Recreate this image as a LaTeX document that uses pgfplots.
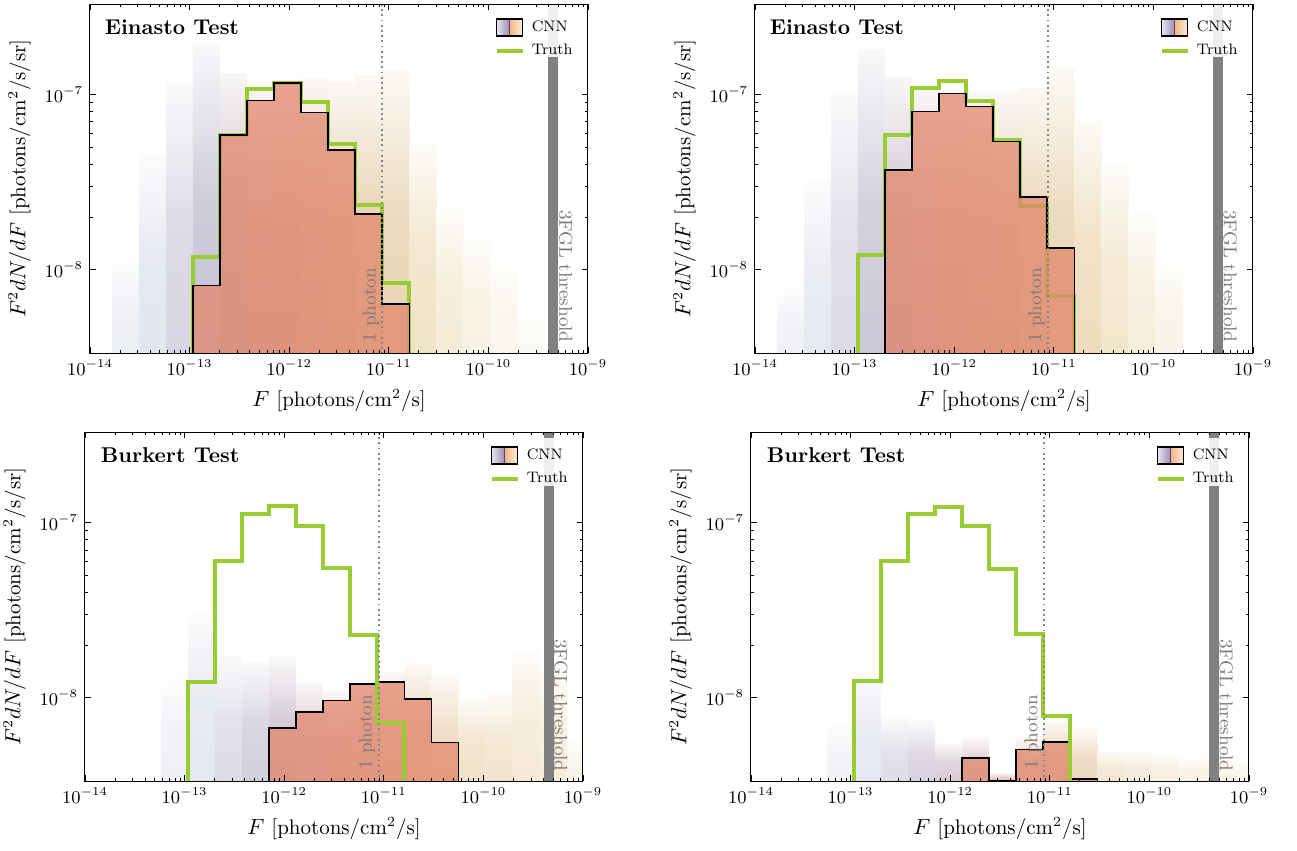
\documentclass[border=0pt]{standalone}
\usepackage{pgfplots}
\pgfplotsset{compat=1.18}

\definecolor{tgreen}{HTML}{99CC33}
\definecolor{salmon}{HTML}{E2876D}
\definecolor{bandgray}{HTML}{808080}
\definecolor{bandlight}{HTML}{EFEFEF}
\definecolor{dotcol}{HTML}{858585}
\definecolor{txtgray}{HTML}{7A7A7A}
\definecolor{cnnA}{HTML}{E4E4EE}
\definecolor{cnnB}{HTML}{9A8CAE}
\definecolor{cnnC}{HTML}{F0B882}
\definecolor{cnnD}{HTML}{FCEEDC}
\definecolor{cnnM}{HTML}{6A3A8A}
% panel 1 bins
\definecolor{a0}{HTML}{ECEEF5}\definecolor{a1}{HTML}{E3E5EF}\definecolor{a2}{HTML}{D6D6E4}
\definecolor{a3}{HTML}{C6C1D2}\definecolor{a4}{HTML}{C4B4BE}\definecolor{a5}{HTML}{D2B6B2}
\definecolor{a6}{HTML}{D8B6A8}\definecolor{a7}{HTML}{DCBCAA}\definecolor{a8}{HTML}{E0C4A6}
\definecolor{a9}{HTML}{E4CCA8}\definecolor{a10}{HTML}{E8D4B2}\definecolor{a11}{HTML}{F0E2C6}
\definecolor{a12}{HTML}{F5EBD6}\definecolor{a13}{HTML}{F8F2E3}\definecolor{a14}{HTML}{FAF6EC}
\definecolor{a15}{HTML}{FCFAF4}
% panel 2 bins
\definecolor{b0}{HTML}{EFF1F6}\definecolor{b1}{HTML}{E7E9F1}\definecolor{b2}{HTML}{DCDCE8}
\definecolor{b3}{HTML}{CCC8D7}\definecolor{b4}{HTML}{C6BAC6}\definecolor{b5}{HTML}{D4BAB8}
\definecolor{b6}{HTML}{DABAAE}\definecolor{b7}{HTML}{DCBEAC}\definecolor{b8}{HTML}{E0C4A8}
\definecolor{b9}{HTML}{E4CCA8}\definecolor{b10}{HTML}{E8D4B2}\definecolor{b11}{HTML}{EEDCBC}
\definecolor{b12}{HTML}{F2E6CC}\definecolor{b13}{HTML}{F6EEDC}\definecolor{b14}{HTML}{F9F4E8}
% panel 3 bins
\definecolor{c2}{HTML}{EEF0F5}\definecolor{c3}{HTML}{E5E7EF}\definecolor{c4}{HTML}{DCDCE8}
\definecolor{c5}{HTML}{D2CEDC}\definecolor{c6}{HTML}{CEC2CE}\definecolor{c7}{HTML}{D8C2C6}
\definecolor{c8}{HTML}{DCC0BE}\definecolor{c9}{HTML}{E0C4B8}\definecolor{c10}{HTML}{E4C8B4}
\definecolor{c11}{HTML}{E8D0B6}\definecolor{c12}{HTML}{ECD8BE}\definecolor{c13}{HTML}{F0E0C6}
\definecolor{c14}{HTML}{F2E4CC}\definecolor{c15}{HTML}{F5EAD6}\definecolor{c16}{HTML}{F6ECD8}
\definecolor{c17}{HTML}{F9F4E8}
% panel 4 bins
\definecolor{d2}{HTML}{F0F2F6}\definecolor{d3}{HTML}{E6E8F0}\definecolor{d4}{HTML}{DEDCE8}
\definecolor{d5}{HTML}{D8D2DE}\definecolor{d6}{HTML}{D8CCD4}\definecolor{d7}{HTML}{DCC8CC}
\definecolor{d8}{HTML}{E0C8C4}\definecolor{d9}{HTML}{E4CCC0}\definecolor{d10}{HTML}{E8D0BC}
\definecolor{d11}{HTML}{ECD8C0}\definecolor{d12}{HTML}{F2E6D0}\definecolor{d13}{HTML}{F4EADA}
\definecolor{d14}{HTML}{F6EEDF}\definecolor{d15}{HTML}{F8F2E4}\definecolor{d16}{HTML}{F8F2E4}
\definecolor{d17}{HTML}{FAF6EC}

% faint CNN bar: colour, left edge, right edge, top
\newcommand{\fb}[4]{\addplot[draw=none, forget plot, bottom color=#1, top color=#1!12!white, middle color=#1!82!white] coordinates {(#2,3.35e-9) (#2,#4) (#3,#4) (#3,3.35e-9)};}

\newcommand{\cnnlegend}{%
\addlegendimage{legend image code/.code={
  \shade[left color=cnnA, right color=cnnB] (0pt,-4.25pt) rectangle (6.5pt,4.25pt);
  \shade[left color=cnnC, right color=cnnD] (6.5pt,-4.25pt) rectangle (13pt,4.25pt);
  \draw[cnnM, line width=0.6pt] (6.5pt,-4.25pt) -- (6.5pt,4.25pt);
  \draw[black, line width=0.7pt] (0pt,-4.25pt) rectangle (13pt,4.25pt);
}}
\addlegendentry{CNN}
\addlegendimage{legend image code/.code={\draw[tgreen, line width=2pt] (0pt,0pt) -- (13pt,0pt);}}
\addlegendentry{Truth}
}

\pgfplotsset{
 every axis/.append style={
  scale only axis, width=249pt, height=174.5pt,
  xmin=1e-14, xmax=1e-9, ymin=3.35e-9, ymax=3.3e-7,
  xtick={1e-14,1e-13,1e-12,1e-11,1e-10,1e-9},
  ytick={1e-8,1e-7},
  tick align=inside, axis on top,
  major tick length=3pt, minor tick length=1.6pt,
  every tick/.append style={black, line width=0.4pt},
  axis line style={black, line width=0.5pt},
  tick label style={font=\fontsize{9}{10}\selectfont},
  label style={font=\fontsize{10.5}{12}\selectfont},
  xlabel={$F$ [photons/cm$^2$/s]},
  ylabel={$F^2dN/dF$ [photons/cm$^2$/s/sr]},
  legend cell align=left,
  legend style={draw=none, fill=none, at={(1,1)}, anchor=north east,
    xshift=-7.5pt, yshift=-7pt, font=\fontsize{7.6}{9}\selectfont,
    inner sep=0pt, row sep=3.5pt, column sep=3.5pt, nodes={inner sep=0pt}},
 },
}
\tikzset{
 ttl/.style={anchor=north west, inner sep=0pt, font=\bfseries\fontsize{10.7}{12}\selectfont},
 ann/.style={inner sep=0pt, text=txtgray, font=\fontsize{9.3}{11}\selectfont},
 phl/.style={dotcol, line width=0.9pt, dash pattern=on 0.9pt off 1.7pt},
}

\begin{document}
\begin{tikzpicture}
\path[use as bounding box] (0,0) rectangle (648.5pt,425.5pt);

% ---------------- Panel 1: Einasto (top left)
\begin{loglogaxis}[at={(45pt,249pt)}, anchor=south west]
\fb{a0}{1.656e-14}{3.094e-14}{1.09e-8}
\fb{a1}{3.094e-14}{5.782e-14}{4.54e-8}
\fb{a2}{5.782e-14}{1.080e-13}{1.17e-7}
\fb{a3}{1.080e-13}{2.019e-13}{1.95e-7}
\fb{a4}{2.019e-13}{3.773e-13}{1.32e-7}
\fb{a5}{3.773e-13}{7.050e-13}{1.10e-7}
\fb{a6}{7.050e-13}{1.317e-12}{1.20e-7}
\fb{a7}{1.317e-12}{2.461e-12}{1.23e-7}
\fb{a8}{2.461e-12}{4.600e-12}{1.17e-7}
\fb{a9}{4.600e-12}{8.595e-12}{1.30e-7}
\fb{a10}{8.595e-12}{1.606e-11}{1.38e-7}
\fb{a11}{1.606e-11}{3.001e-11}{5.25e-8}
\fb{a12}{3.001e-11}{5.608e-11}{2.22e-8}
\fb{a13}{5.608e-11}{1.048e-10}{1.55e-8}
\fb{a14}{1.048e-10}{1.958e-10}{1.14e-8}
\fb{a15}{1.958e-10}{3.659e-10}{6.0e-9}
\addplot[const plot, tgreen, line width=2pt, forget plot] coordinates {(1.080e-13,3e-9) (1.080e-13,1.19e-8) (2.019e-13,5.86e-8) (3.773e-13,1.076e-7) (7.050e-13,1.175e-7) (1.317e-12,9.04e-8) (2.461e-12,5.25e-8) (4.600e-12,2.35e-8) (8.595e-12,8.4e-9) (1.606e-11,3e-9)};
\addplot[const plot, draw=none, fill=salmon, fill opacity=0.75, forget plot] coordinates {(1.080e-13,3.35e-9) (1.080e-13,8.12e-9) (2.019e-13,5.9e-8) (3.773e-13,9.28e-8) (7.050e-13,1.166e-7) (1.317e-12,7.92e-8) (2.461e-12,4.85e-8) (4.600e-12,2.08e-8) (8.595e-12,6.37e-9) (1.606e-11,3.35e-9)};
\addplot[const plot, black, line width=0.75pt, forget plot] coordinates {(1.080e-13,3e-9) (1.080e-13,8.12e-9) (2.019e-13,5.9e-8) (3.773e-13,9.28e-8) (7.050e-13,1.166e-7) (1.317e-12,7.92e-8) (2.461e-12,4.85e-8) (4.600e-12,2.08e-8) (8.595e-12,6.37e-9) (1.606e-11,3e-9)};
\addplot[phl, forget plot] coordinates {(8.6e-12,3.3e-9) (8.6e-12,4e-7)};
\addplot[bandgray, line width=5pt, forget plot] coordinates {(4.5e-10,3e-9) (4.5e-10,4e-7)};
\addplot[bandlight, line width=5pt, forget plot] coordinates {(4.5e-10,1.64e-7) (4.5e-10,4e-7)};
\node[ttl] at ([xshift=7.3pt,yshift=-7.8pt]rel axis cs:0,1) {Einasto Test};
\node[ann, rotate=90, anchor=base west] at ([xshift=-3.3pt,yshift=5pt]axis cs:8.6e-12,3.35e-9) {1 photon};
\node[ann, rotate=-90, anchor=base east] at ([xshift=3pt,yshift=5pt]axis cs:4.5e-10,3.35e-9) {3FGL threshold};
\cnnlegend
\end{loglogaxis}

% ---------------- Panel 2: Einasto (top right)
\begin{loglogaxis}[at={(377.5pt,249pt)}, anchor=south west]
\fb{b0}{1.656e-14}{3.094e-14}{7.85e-9}
\fb{b1}{3.094e-14}{5.782e-14}{3.2e-8}
\fb{b2}{5.782e-14}{1.080e-13}{1.02e-7}
\fb{b3}{1.080e-13}{2.019e-13}{1.82e-7}
\fb{b4}{2.019e-13}{3.773e-13}{1.26e-7}
\fb{b5}{3.773e-13}{7.050e-13}{1.10e-7}
\fb{b6}{7.050e-13}{1.317e-12}{1.05e-7}
\fb{b7}{1.317e-12}{2.461e-12}{1.05e-7}
\fb{b8}{2.461e-12}{4.600e-12}{1.03e-7}
\fb{b9}{4.600e-12}{8.595e-12}{1.09e-7}
\fb{b10}{8.595e-12}{1.606e-11}{1.42e-7}
\fb{b11}{1.606e-11}{3.001e-11}{7.04e-8}
\fb{b12}{3.001e-11}{5.608e-11}{3.89e-8}
\fb{b13}{5.608e-11}{1.048e-10}{2.15e-8}
\fb{b14}{1.048e-10}{1.958e-10}{1.14e-8}
\addplot[const plot, tgreen, line width=2pt, forget plot] coordinates {(1.080e-13,3e-9) (1.080e-13,1.21e-8) (2.019e-13,5.91e-8) (3.773e-13,1.10e-7) (7.050e-13,1.202e-7) (1.317e-12,9.16e-8) (2.461e-12,5.53e-8) (4.600e-12,2.33e-8) (8.595e-12,7.05e-9) (1.606e-11,3e-9)};
\addplot[const plot, draw=none, fill=salmon, fill opacity=0.75, forget plot] coordinates {(2.019e-13,3.35e-9) (2.019e-13,3.73e-8) (3.773e-13,8.03e-8) (7.050e-13,1.02e-7) (1.317e-12,8.58e-8) (2.461e-12,5.41e-8) (4.600e-12,2.60e-8) (8.595e-12,1.33e-8) (1.606e-11,3.35e-9)};
\addplot[const plot, black, line width=0.75pt, forget plot] coordinates {(2.019e-13,3e-9) (2.019e-13,3.73e-8) (3.773e-13,8.03e-8) (7.050e-13,1.02e-7) (1.317e-12,8.58e-8) (2.461e-12,5.41e-8) (4.600e-12,2.60e-8) (8.595e-12,1.33e-8) (1.606e-11,3e-9)};
\addplot[phl, forget plot] coordinates {(8.7e-12,3.3e-9) (8.7e-12,4e-7)};
\addplot[bandgray, line width=5pt, forget plot] coordinates {(4.5e-10,3e-9) (4.5e-10,4e-7)};
\addplot[bandlight, line width=5pt, forget plot] coordinates {(4.5e-10,1.64e-7) (4.5e-10,4e-7)};
\node[ttl] at ([xshift=7.3pt,yshift=-7.8pt]rel axis cs:0,1) {Einasto Test};
\node[ann, rotate=90, anchor=base west] at ([xshift=-3.3pt,yshift=5pt]axis cs:8.7e-12,3.35e-9) {1 photon};
\node[ann, rotate=-90, anchor=base east] at ([xshift=2.7pt,yshift=5pt]axis cs:4.5e-10,3.35e-9) {3FGL threshold};
\cnnlegend
\end{loglogaxis}

% ---------------- Panel 3: Burkert (bottom left)
\begin{loglogaxis}[at={(42.5pt,35pt)}, anchor=south west]
\fb{c2}{5.782e-14}{1.080e-13}{1.30e-8}
\fb{c3}{1.080e-13}{2.019e-13}{3.08e-8}
\fb{c4}{2.019e-13}{3.773e-13}{1.75e-8}
\fb{c5}{3.773e-13}{7.050e-13}{1.585e-8}
\fb{c6}{7.050e-13}{1.317e-12}{1.70e-8}
\fb{c7}{1.317e-12}{2.461e-12}{1.22e-8}
\fb{c8}{2.461e-12}{4.600e-12}{1.09e-8}
\fb{c9}{4.600e-12}{8.595e-12}{1.25e-8}
\fb{c10}{8.595e-12}{1.606e-11}{1.42e-8}
\fb{c11}{1.606e-11}{3.001e-11}{1.57e-8}
\fb{c12}{3.001e-11}{5.608e-11}{1.36e-8}
\fb{c13}{5.608e-11}{1.048e-10}{9.87e-9}
\fb{c14}{1.048e-10}{1.958e-10}{1.045e-8}
\fb{c15}{1.958e-10}{3.659e-10}{1.85e-8}
\fb{c16}{3.659e-10}{6.837e-10}{1.5e-8}
\fb{c17}{6.837e-10}{1.278e-9}{5.77e-9}
\addplot[const plot, draw=none, fill=salmon, fill opacity=0.75, forget plot] coordinates {(7.050e-13,3.35e-9) (7.050e-13,6.73e-9) (1.317e-12,8.28e-9) (2.461e-12,9.66e-9) (4.600e-12,1.2e-8) (8.595e-12,1.236e-8) (1.606e-11,9.87e-9) (3.001e-11,5.57e-9) (5.608e-11,3.35e-9)};
\addplot[const plot, black, line width=0.75pt, forget plot] coordinates {(7.050e-13,3e-9) (7.050e-13,6.73e-9) (1.317e-12,8.28e-9) (2.461e-12,9.66e-9) (4.600e-12,1.2e-8) (8.595e-12,1.236e-8) (1.606e-11,9.87e-9) (3.001e-11,5.57e-9) (5.608e-11,3e-9)};
\addplot[const plot, tgreen, line width=2pt, forget plot] coordinates {(1.080e-13,3e-9) (1.080e-13,1.236e-8) (2.019e-13,6.08e-8) (3.773e-13,1.127e-7) (7.050e-13,1.24e-7) (1.317e-12,9.53e-8) (2.461e-12,5.5e-8) (4.600e-12,2.28e-8) (8.595e-12,7.19e-9) (1.606e-11,3e-9)};
\addplot[phl, forget plot] coordinates {(8.9e-12,3.3e-9) (8.9e-12,4e-7)};
\addplot[bandgray, line width=5pt, forget plot] coordinates {(4.6e-10,3e-9) (4.6e-10,4e-7)};
\addplot[bandlight, line width=5pt, forget plot] coordinates {(4.6e-10,1.625e-7) (4.6e-10,3.05e-7)};
\node[ttl] at ([xshift=7.8pt,yshift=-7.5pt]rel axis cs:0,1) {Burkert Test};
\node[ann, rotate=90, anchor=base west] at ([xshift=-3.5pt,yshift=5.5pt]axis cs:8.9e-12,3.35e-9) {1 photon};
\node[ann, rotate=-90, anchor=base east] at ([xshift=2.5pt,yshift=4.5pt]axis cs:4.6e-10,3.35e-9) {3FGL threshold};
\cnnlegend
\end{loglogaxis}

% ---------------- Panel 4: Burkert (bottom right)
\begin{loglogaxis}[at={(375.5pt,35pt)}, anchor=south west]
\fb{d2}{5.782e-14}{1.080e-13}{7.1e-9}
\fb{d3}{1.080e-13}{2.019e-13}{1.36e-8}
\fb{d4}{2.019e-13}{3.773e-13}{7.76e-9}
\fb{d5}{3.773e-13}{7.050e-13}{7.36e-9}
\fb{d6}{7.050e-13}{1.317e-12}{5.48e-9}
\fb{d7}{1.317e-12}{2.461e-12}{5.9e-9}
\fb{d8}{2.461e-12}{4.600e-12}{3.73e-9}
\fb{d9}{4.600e-12}{8.595e-12}{6.0e-9}
\fb{d10}{8.595e-12}{1.606e-11}{7.36e-9}
\fb{d11}{1.606e-11}{3.001e-11}{6.65e-9}
\fb{d12}{3.001e-11}{5.608e-11}{4.95e-9}
\fb{d13}{5.608e-11}{1.048e-10}{4.95e-9}
\fb{d14}{1.048e-10}{1.958e-10}{4.75e-9}
\fb{d15}{1.958e-10}{3.659e-10}{4.55e-9}
\fb{d16}{3.659e-10}{6.837e-10}{4.5e-9}
\fb{d17}{6.837e-10}{1.278e-9}{4.5e-9}
\addplot[const plot, draw=none, fill=salmon, fill opacity=0.75, forget plot] coordinates {(1.317e-12,3.35e-9) (1.317e-12,4.54e-9) (2.461e-12,3.36e-9) (4.600e-12,5.07e-9) (8.595e-12,5.58e-9) (1.606e-11,3.45e-9) (3.001e-11,3.35e-9)};
\addplot[const plot, black, line width=0.75pt, forget plot] coordinates {(1.317e-12,3e-9) (1.317e-12,4.54e-9) (2.461e-12,3.36e-9) (4.600e-12,5.07e-9) (8.595e-12,5.58e-9) (1.606e-11,3.45e-9) (3.001e-11,3e-9)};
\addplot[const plot, tgreen, line width=2pt, forget plot] coordinates {(1.080e-13,3e-9) (1.080e-13,1.245e-8) (2.019e-13,6.04e-8) (3.773e-13,1.116e-7) (7.050e-13,1.23e-7) (1.317e-12,9.57e-8) (2.461e-12,5.41e-8) (4.600e-12,2.33e-8) (8.595e-12,7.93e-9) (1.606e-11,3e-9)};
\addplot[phl, forget plot] coordinates {(8.8e-12,3.3e-9) (8.8e-12,4e-7)};
\addplot[bandgray, line width=5pt, forget plot] coordinates {(4.5e-10,3e-9) (4.5e-10,4e-7)};
\addplot[bandlight, line width=5pt, forget plot] coordinates {(4.5e-10,1.625e-7) (4.5e-10,3.05e-7)};
\node[ttl] at ([xshift=7.8pt,yshift=-7.5pt]rel axis cs:0,1) {Burkert Test};
\node[ann, rotate=90, anchor=base west] at ([xshift=-3.5pt,yshift=5.5pt]axis cs:8.8e-12,3.35e-9) {1 photon};
\node[ann, rotate=-90, anchor=base east] at ([xshift=2.7pt,yshift=4.5pt]axis cs:4.5e-10,3.35e-9) {3FGL threshold};
\cnnlegend
\end{loglogaxis}
\end{tikzpicture}
\end{document}
